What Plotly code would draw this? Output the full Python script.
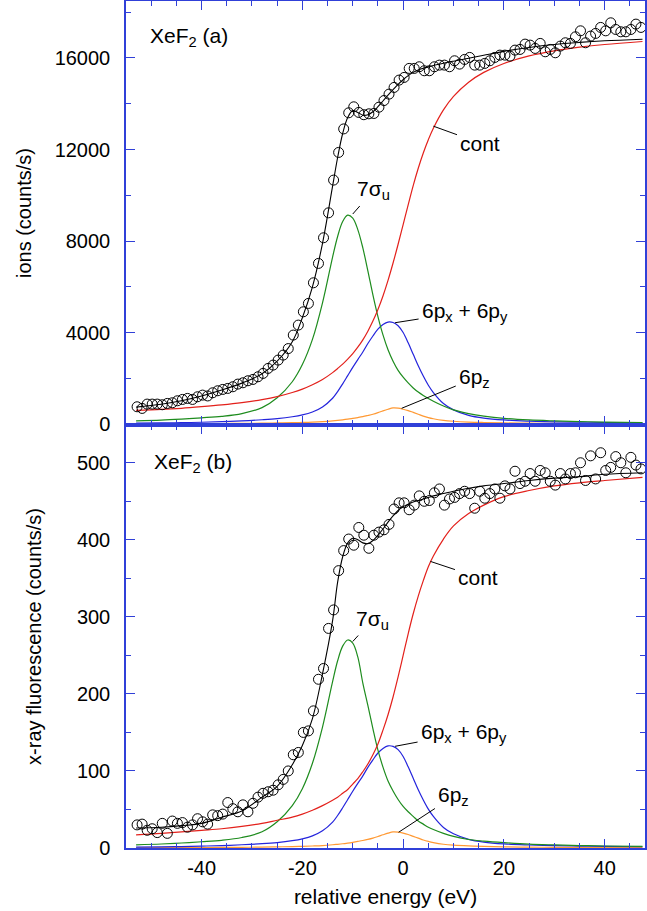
import plotly.graph_objects as go

# ---------------- data ----------------
energy_pts = [-52.8, -51.8, -50.8, -49.8, -48.8, -47.8, -46.8, -45.8, -44.8, -43.8,
              -42.8, -41.8, -40.8, -39.8, -38.8, -37.8, -36.8, -35.8, -34.8, -33.8,
              -32.8, -31.8, -30.8, -29.8, -28.8, -27.8, -26.8, -25.8, -24.8, -23.8,
              -22.8, -21.8, -20.8, -19.8, -18.8, -17.8, -16.8, -15.8, -14.8, -13.8,
              -12.8, -11.8, -10.8, -9.8, -8.8, -7.8, -6.8, -5.8, -4.8, -3.8,
              -2.8, -1.8, -0.8, 0.2, 1.2, 2.2, 3.2, 4.2, 5.2, 6.2,
              7.2, 8.2, 9.2, 10.2, 11.2, 12.2, 13.2, 14.2, 15.2, 16.2,
              17.2, 18.2, 19.2, 20.2, 21.2, 22.2, 23.2, 24.2, 25.2, 26.2,
              27.2, 28.2, 29.2, 30.2, 31.2, 32.2, 33.2, 34.2, 35.2, 36.2,
              37.2, 38.2, 39.2, 40.2, 41.2, 42.2, 43.2, 44.2, 45.2, 46.2, 47.2]

ions_data = [757, 685, 874, 874, 874, 845, 903, 932, 1019, 1078,
             1122, 1078, 1194, 1267, 1230, 1369, 1457, 1515, 1559, 1632,
             1748, 1806, 1894, 1952, 2069, 2214, 2433, 2578, 2797, 3015,
             3300, 3890, 4326, 4908, 5273, 6175, 7022, 8143, 9234, 10663,
             11872, 12900, 13604, 13866, 13620, 13520, 13560, 13575, 13850, 14140,
             14421, 14713, 15033, 15150, 15544, 15544, 15616, 15441, 15441, 15616,
             15688, 15688, 15616, 15878, 15732, 15937, 16024, 15688, 15688, 15762,
             15878, 16024, 16125, 16125, 16082, 16344, 16374, 16606, 16562, 16417,
             16636, 16271, 16374, 16227, 16519, 16665, 16636, 16925, 17187, 16665,
             16956, 17073, 17335, 17187, 17537, 17246, 17144, 17144, 17246, 17480, 17335]

xrf_data = [30, 31, 23, 25, 20, 32, 19, 35, 32, 33,
            27, 30, 38, 34, 31, 43, 42, 44, 59, 51,
            47, 56, 47, 58, 66, 71, 73, 75, 82, 89,
            100, 121, 124, 150, 152, 178, 219, 233, 285, 309,
            360, 386, 401, 393, 416, 406, 389, 406, 410, 413,
            420, 440, 448, 448, 439, 445, 457, 450, 451, 461,
            466, 445, 453, 455, 460, 463, 460, 441, 463, 454,
            460, 466, 454, 470, 466, 489, 473, 476, 486, 476,
            490, 487, 476, 471, 486, 479, 486, 487, 500, 477,
            509, 479, 513, 490, 494, 508, 500, 487, 507, 497, 492]

curve_x = [-53, -48, -44, -40, -36, -32, -28, -25, -22, -20,
           -18, -16, -14, -13, -12, -11, -10, -9, -8, -7,
           -6, -5, -4, -3, -2, -1, 0, 1, 2, 3,
           4, 5, 6, 8, 10, 13, 16, 20, 25, 30,
           35, 40, 47.5]

# panel (a): ions
fit_a = [740, 870, 1020, 1230, 1490, 1790, 2200, 2750, 3600, 4650,
         6000, 7900, 10400, 11650, 12700, 13400, 13700, 13620, 13500, 13520,
         13650, 13870, 14120, 14380, 14620, 14850, 15050, 15230, 15370, 15470,
         15550, 15610, 15670, 15770, 15860, 15990, 16120, 16290, 16460, 16590,
         16680, 16750, 16820]
cont_a = [600, 640, 690, 760, 840, 940, 1070, 1200, 1380, 1530,
          1720, 1950, 2250, 2430, 2620, 2840, 3080, 3360, 3680, 4060,
          4500, 5010, 5600, 6280, 7040, 7860, 8720, 9580, 10420, 11180,
          11850, 12430, 12930, 13730, 14320, 14940, 15370, 15760, 16090, 16310,
          16470, 16590, 16720]
sigma_a = [140, 175, 220, 275, 340, 460, 720, 1150, 1850, 2600,
           3700, 5300, 7300, 8200, 8850, 9130, 9000, 8500, 7700, 6700,
           5650, 4700, 3900, 3250, 2750, 2350, 2050, 1800, 1580, 1400,
           1250, 1120, 1000, 790, 620, 460, 350, 250, 180, 140,
           110, 90, 70]
pxy_a = [40, 50, 62, 80, 105, 140, 190, 240, 320, 400,
         530, 750, 1130, 1420, 1760, 2120, 2480, 2820, 3150, 3520,
         3850, 4150, 4350, 4460, 4440, 4300, 4000, 3550, 3050, 2550,
         2100, 1700, 1380, 900, 620, 380, 260, 180, 130, 100,
         85, 70, 55]
pz_a = [10, 13, 16, 20, 25, 31, 40, 50, 62, 72,
        86, 108, 140, 160, 185, 215, 250, 285, 325, 375,
        430, 500, 580, 650, 705, 695, 650, 590, 510, 430,
        350, 285, 235, 165, 125, 90, 70, 52, 38, 30,
        24, 20, 15]

# panel (b): x-ray fluorescence
fit_b = [26, 27, 29, 32, 40, 48, 66, 80, 108, 133,
         168, 226, 295, 345, 378, 396, 402, 400, 396, 395,
         399, 406, 414, 423, 431, 438, 443, 446, 449, 451,
         453, 455, 457, 460, 463, 467, 470, 473, 477, 480,
         482, 485, 487]
cont_b = [17, 19, 21, 23, 25, 28, 32, 36, 40, 44,
          49, 55, 62, 66, 71, 76, 83, 90, 99, 109,
          121, 135, 153, 173, 196, 222, 250, 278, 304, 327,
          347, 365, 379, 401, 418, 434, 445, 456, 464, 470,
          474, 477, 481]
sigma_b = [4.1, 5.2, 6.5, 8.1, 10, 13.6, 21, 34, 55, 77,
           110, 157, 216, 243, 262, 270, 266, 248, 214, 185,
           155, 127, 105, 87, 74, 63, 54, 47, 41, 35,
           31, 27, 24, 19, 15, 11, 9, 7, 5, 4,
           3.2, 2.6, 2]
pxy_b = [1.2, 1.5, 1.8, 2.4, 3.1, 4.2, 5.6, 7.1, 9.5, 11.9,
         15.7, 22.3, 33.6, 42.2, 52.3, 63, 73.7, 83.8, 93.6, 104.6,
         114.4, 123.3, 129.2, 132.5, 131.9, 127.7, 118.8, 105.4, 90.6, 75.7,
         62.4, 50.5, 41, 26.7, 18.4, 11.3, 7.7, 5.3, 3.9, 3,
         2.5, 2.1, 1.6]
pz_b = [0.3, 0.4, 0.5, 0.6, 0.7, 0.9, 1.2, 1.5, 1.8, 2.1,
        2.6, 3.2, 4.2, 4.8, 5.5, 6.4, 7.4, 8.5, 9.7, 11.1,
        12.8, 14.9, 17.2, 19.3, 20.9, 20.6, 19.3, 17.5, 15.1, 12.8,
        10.4, 8.5, 7, 4.9, 3.7, 2.7, 2.1, 1.5, 1.1, 0.9,
        0.7, 0.6, 0.4]

x_ticks = [-40, -20, 0, 20, 40]
x_ticklabels = ["-40", "-20", "0", "20", "40"]
ions_ticks = [0, 4000, 8000, 12000, 16000]
xrf_ticks = [0, 100, 200, 300, 400, 500]

# ---------------- styling ----------------
FONT = "Liberation Sans, Arial, Helvetica, sans-serif"
AXIS_BLUE = "#3040d8"
RED = "#e3201b"
GREEN = "#1e8c1e"
BLUE = "#2424dc"
ORANGE = "#ff9933"

fig = go.Figure()


def add_panel(yref_axis, data_y, fit, cont, sigma, pxy, pz):
    xa = "x" if yref_axis == "y" else "x2"
    common = dict(xaxis=xa, yaxis=yref_axis, showlegend=False, hoverinfo="skip")
    fig.add_trace(go.Scatter(x=curve_x, y=pz, mode="lines", line=dict(color=ORANGE, width=1.2, shape="spline"), **common))
    fig.add_trace(go.Scatter(x=curve_x, y=pxy, mode="lines", line=dict(color=BLUE, width=1.2, shape="spline"), **common))
    fig.add_trace(go.Scatter(x=curve_x, y=sigma, mode="lines", line=dict(color=GREEN, width=1.2, shape="spline"), **common))
    fig.add_trace(go.Scatter(x=curve_x, y=cont, mode="lines", line=dict(color=RED, width=1.2, shape="spline"), **common))
    fig.add_trace(go.Scatter(x=curve_x, y=fit, mode="lines", line=dict(color="black", width=1.1, shape="spline"), **common))
    fig.add_trace(go.Scatter(x=energy_pts, y=data_y, mode="markers",
                             marker=dict(symbol="circle-open", size=10, color="black", line=dict(width=1)),
                             **common))


add_panel("y", ions_data, fit_a, cont_a, sigma_a, pxy_a, pz_a)
add_panel("y2", xrf_data, fit_b, cont_b, sigma_b, pxy_b, pz_b)

axis_common = dict(showline=True, linecolor=AXIS_BLUE, linewidth=1.5, mirror="ticks",
                   ticks="inside", tickcolor=AXIS_BLUE, tickwidth=1.3, ticklen=9,
                   showgrid=False, zeroline=False, automargin=False,
                   tickfont=dict(family=FONT, size=20, color="black"))

fig.update_layout(
    width=647, height=911,
    margin=dict(l=126, r=2, t=1, b=63),
    paper_bgcolor="white", plot_bgcolor="white",
    font=dict(family=FONT, size=20, color="black"),
    xaxis=dict(domain=[0, 1], anchor="y", range=[-55, 48], tickvals=x_ticks,
               showticklabels=False,
               minor=dict(dtick=5, tick0=0, ticks="inside", ticklen=5, tickcolor=AXIS_BLUE, tickwidth=1.2),
               **axis_common),
    yaxis=dict(domain=[0.4994, 1], anchor="x", range=[-40, 18490], tickvals=ions_ticks,
               tickformat="d", ticklabelstandoff=10,
               title=dict(text="ions (counts/s)", standoff=18, font=dict(family=FONT, size=20)),
               minor=dict(dtick=2000, tick0=0, ticks="inside", ticklen=5, tickcolor=AXIS_BLUE, tickwidth=1.2),
               **axis_common),
    xaxis2=dict(domain=[0, 1], anchor="y2", range=[-55, 48], tickvals=x_ticks, ticktext=x_ticklabels,
                ticklabelstandoff=1,
                title=dict(text="relative energy (eV)", standoff=12, font=dict(family=FONT, size=21)),
                minor=dict(dtick=5, tick0=0, ticks="inside", ticklen=5, tickcolor=AXIS_BLUE, tickwidth=1.2),
                **axis_common),
    yaxis2=dict(domain=[0, 0.4994], anchor="x2", range=[0, 549], tickvals=xrf_ticks,
                tickformat="d", ticklabelstandoff=10,
                title=dict(text="x-ray fluorescence (counts/s)", standoff=30, font=dict(family=FONT, size=20)),
                minor=dict(dtick=50, tick0=0, ticks="inside", ticklen=5, tickcolor=AXIS_BLUE, tickwidth=1.2),
                **axis_common),
)

ann_font = dict(family=FONT, size=21, color="black")


def label(text, xa, ya, x, y, ax, ay):
    fig.add_annotation(text=text, xref=xa, yref=ya, x=x, y=y, ax=ax, ay=ay,
                       showarrow=True, arrowhead=0, arrowwidth=1, arrowcolor="black",
                       standoff=0, startstandoff=2, font=ann_font)


# panel (a)
label("cont", "x", "y", 6.0, 13020, 47, 17)
label("7σ<sub>u</sub>", "x", "y", -10.0, 9180, 21, -24)
label("6p<sub>x</sub> + 6p<sub>y</sub>", "x", "y", -1.6, 4430, 70, -11)
label("6p<sub>z</sub>", "x", "y", -0.3, 690, 73, -30)
# panel (b)
label("cont", "x2", "y2", 5.4, 372, 48, 16)
label("7σ<sub>u</sub>", "x2", "y2", -10.0, 268, 20, -22)
label("6p<sub>x</sub> + 6p<sub>y</sub>", "x2", "y2", -1.6, 132, 69, -13)
label("6p<sub>z</sub>", "x2", "y2", -0.9, 20.4, 55, -36)

fig.add_annotation(text="XeF<sub>2</sub> (a)", xref="paper", yref="paper", x=0.0424, y=0.957,
                   xanchor="left", yanchor="middle", showarrow=False, font=ann_font)
fig.add_annotation(text="XeF<sub>2</sub> (b)", xref="paper", yref="paper", x=0.050, y=0.454,
                   xanchor="left", yanchor="middle", showarrow=False, font=ann_font)

fig.write_html("out.html", config={"displayModeBar": False},
               post_script="document.body.style.margin='0px';document.body.style.overflow='hidden';")
